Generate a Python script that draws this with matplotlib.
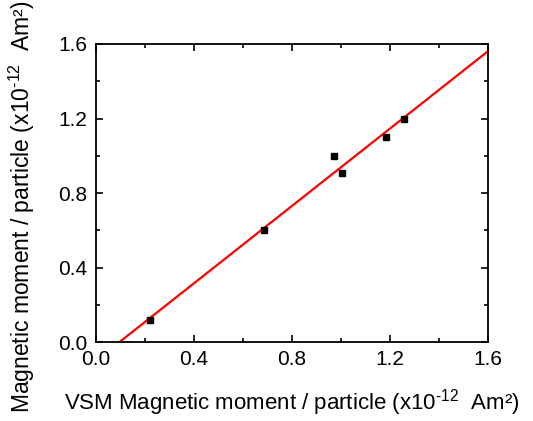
import numpy as np
import matplotlib
matplotlib.use("Agg")
import matplotlib.pyplot as plt
from matplotlib.ticker import MultipleLocator

plt.rcParams['font.family'] = ['Liberation Sans', 'DejaVu Sans']
plt.rcParams['mathtext.fontset'] = 'custom'
plt.rcParams['mathtext.rm'] = 'Liberation Sans'
plt.rcParams['mathtext.default'] = 'regular'

# data
vsm_moment = [0.22, 0.686, 0.97, 1.005, 1.185, 1.259]
particle_moment = [0.12, 0.60, 1.00, 0.91, 1.10, 1.20]

# linear fit
slope, intercept = np.polyfit(vsm_moment, particle_moment, 1)
xfit = np.linspace(0.0, 1.6, 50)
yfit = slope * xfit + intercept

fig = plt.figure(figsize=(5.33, 4.21), dpi=100)
ax = fig.add_axes([0.180, 0.1876, 0.7356, 0.7079])

ax.plot(xfit, yfit, color='red', lw=1.6, zorder=2)
ax.plot(vsm_moment, particle_moment, 's', color='black', ms=4.5, zorder=3)

ax.set_xlim(0, 1.6)
ax.set_ylim(0, 1.6)
ax.xaxis.set_major_locator(MultipleLocator(0.4))
ax.xaxis.set_minor_locator(MultipleLocator(0.2))
ax.yaxis.set_major_locator(MultipleLocator(0.4))
ax.yaxis.set_minor_locator(MultipleLocator(0.2))
ax.xaxis.set_major_formatter(plt.FormatStrFormatter('%.1f'))
ax.yaxis.set_major_formatter(plt.FormatStrFormatter('%.1f'))

ax.tick_params(which='both', direction='in', top=True, right=True, width=1.2)
ax.tick_params(which='major', length=5, labelsize=15, pad=6)
ax.tick_params(which='minor', length=3)
for s in ax.spines.values():
    s.set_linewidth(1.3)

unit = r' (x10$^{\text{-12}}$  Am²)'
ax.set_xlabel('VSM Magnetic moment / particle' + unit, fontsize=16)
ax.set_ylabel('Magnetic moment / particle' + unit, fontsize=16.5)
ax.xaxis.set_label_coords(0.5, -0.15)
ax.yaxis.set_label_coords(-0.15, 0.455)

fig.savefig('out.png', dpi=100)
